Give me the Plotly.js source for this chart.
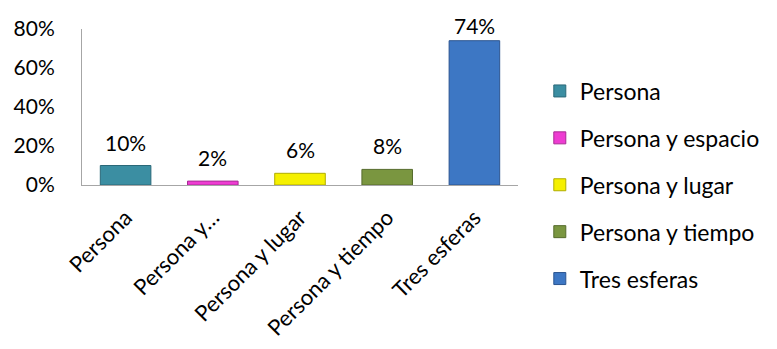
<!DOCTYPE html>
<html><head><meta charset="utf-8">
<script src="https://cdn.plot.ly/plotly-3.0.1.min.js"></script>
<style>html,body{margin:0;padding:0;background:#fff}#c{width:777px;height:349px}</style>
</head><body><div id="c"></div>
<script>
const categories = ["Persona", "Persona y espacio", "Persona y lugar", "Persona y tiempo", "Tres esferas"];
const tickLabels = ["Persona", "Persona y…", "Persona y lugar", "Persona y tiempo", "Tres esferas"];
const values = [10, 2, 6, 8, 74];
const colors = ["#3b8ea2", "#ee3cd2", "#f5f000", "#7a9640", "#3d77c4"];
const lines = ["#2a6878", "#a82a95", "#b0ad00", "#566b2c", "#2a5490"];
const FONT = "Lato, 'Open Sans', sans-serif";
const FS = 21;

const traces = categories.map((c, i) => ({
  type: "bar",
  name: c,
  x: [c],
  y: [values[i]],
  width: 0.58,
  marker: {color: colors[i], line: {color: lines[i], width: 1}},
  legendgroup: "g" + i,
  hoverinfo: "skip",
  cliponaxis: false
}));

const annotations = categories.map((c, i) => ({
  x: c, y: values[i], xref: "x", yref: "y",
  text: values[i] + "%", showarrow: false,
  yanchor: "bottom", yshift: values[i] > 50 ? 1 : 9,
  font: {family: FONT, size: FS, color: "#000"}
}));

const layout = {
  width: 777, height: 349,
  margin: {l: 82, r: 257, t: 29, b: 164},
  paper_bgcolor: "#fff", plot_bgcolor: "#fff",
  barmode: "overlay",
  showlegend: true,
  font: {family: FONT, size: FS, color: "#000"},
  xaxis: {
    type: "category",
    tickvals: categories, ticktext: tickLabels,
    tickangle: -45,
    showline: true, linecolor: "#a6a6a6", linewidth: 1,
    ticks: "", showgrid: false, zeroline: false,
    tickfont: {family: FONT, size: 22, color: "#000"},
    ticklabelstandoff: 10
  },
  yaxis: {
    range: [0, 80], tickvals: [0, 20, 40, 60, 80],
    ticktext: ["0%", "20%", "40%", "60%", "80%"],
    showline: true, linecolor: "#a6a6a6", linewidth: 1,
    ticks: "", showgrid: false, zeroline: false,
    tickfont: {family: FONT, size: FS, color: "#000"},
    ticklabelstandoff: 22
  },
  legend: {
    x: 1.05, xanchor: "left", y: 0, yanchor: "middle",
    font: {family: FONT, size: 23, color: "#000"},
    tracegroupgap: 14, itemwidth: 30,
    maxheight: 349,
    bgcolor: "rgba(0,0,0,0)"
  },
  annotations: annotations
};

Plotly.newPlot("c", traces, layout, {staticPlot: true, displayModeBar: false});
</script>
</body></html>
